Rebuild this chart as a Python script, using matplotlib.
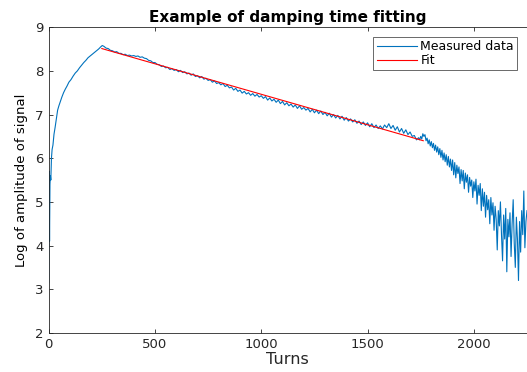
import matplotlib
matplotlib.use("Agg")
import numpy as np
import matplotlib.pyplot as plt

rise_turns = [0, 2, 4, 6, 8, 10, 13, 16, 20, 25, 30, 36, 42, 48, 55, 62, 70, 78,
              86, 95, 105, 115, 125, 135, 145, 155, 165, 175, 185, 195, 205, 215,
              225, 235, 245, 252]
rise_vals = [3.15, 5.7, 4.1, 5.4, 5.6, 5.5, 6.0, 6.2, 6.3, 6.55, 6.7, 6.9, 7.1,
             7.2, 7.3, 7.4, 7.5, 7.58, 7.65, 7.74, 7.8, 7.88, 7.95, 8.0, 8.07,
             8.13, 8.19, 8.24, 8.3, 8.34, 8.38, 8.42, 8.46, 8.5, 8.55, 8.58]

decay_turns = list(range(260, 1741, 10))
decay_vals = [
    8.56, 8.52, 8.51, 8.47, 8.46, 8.43, 8.44, 8.40, 8.40, 8.37,
    8.38, 8.35, 8.36, 8.34, 8.35, 8.33, 8.34, 8.31, 8.32, 8.29,
    8.28, 8.24, 8.23, 8.19, 8.19, 8.15, 8.14, 8.10, 8.11, 8.07,
    8.08, 8.03, 8.05, 8.01, 8.03, 7.98, 8.01, 7.96, 7.98, 7.93,
    7.95, 7.90, 7.93, 7.87, 7.89, 7.84, 7.87, 7.81, 7.83, 7.78,
    7.80, 7.74, 7.77, 7.71, 7.73, 7.68, 7.71, 7.64, 7.67, 7.61,
    7.63, 7.56, 7.60, 7.53, 7.56, 7.49, 7.53, 7.47, 7.50, 7.44,
    7.48, 7.42, 7.46, 7.40, 7.43, 7.37, 7.41, 7.33, 7.38, 7.31,
    7.35, 7.28, 7.33, 7.25, 7.30, 7.22, 7.27, 7.20, 7.24, 7.17,
    7.22, 7.14, 7.20, 7.12, 7.16, 7.10, 7.14, 7.06, 7.12, 7.04,
    7.10, 7.02, 7.08, 7.00, 7.05, 6.97, 7.03, 6.94, 7.00, 6.92,
    6.98, 6.90, 6.96, 6.87, 6.93, 6.85, 6.90, 6.83, 6.88, 6.80,
    6.85, 6.77, 6.83, 6.75, 6.81, 6.72, 6.79, 6.70, 6.76, 6.68,
    6.74, 6.67, 6.76, 6.70, 6.79, 6.68, 6.75, 6.64, 6.72, 6.60,
    6.68, 6.57, 6.65, 6.54, 6.60, 6.50, 6.52, 6.42, 6.47,
]

tail_turns = list(range(1745, 2251, 5))
tail_vals = [
    6.42, 6.50, 6.44, 6.56, 6.50, 6.54, 6.40, 6.46, 6.33, 6.42,
    6.28, 6.38, 6.24, 6.34, 6.18, 6.30, 6.14, 6.26, 6.08, 6.22,
    6.02, 6.18, 5.96, 6.12, 5.92, 6.08, 5.84, 6.04, 5.80, 5.98,
    5.72, 5.96, 5.62, 5.90, 5.55, 5.84, 5.65, 5.80, 5.42, 5.74,
    5.48, 5.72, 5.30, 5.66, 5.45, 5.62, 5.22, 5.56, 5.36, 5.50,
    5.10, 5.46, 5.25, 5.52, 4.95, 5.38, 5.15, 5.42, 4.80, 5.30,
    4.90, 5.22, 4.65, 5.15, 4.82, 5.05, 4.50, 5.10, 4.70, 4.98,
    4.35, 4.90, 4.60, 3.90, 4.80, 4.45, 5.00, 4.25, 3.65, 4.70,
    4.15, 4.85, 3.40, 4.60, 4.20, 4.75, 3.75, 4.50, 5.05, 4.05,
    3.50, 4.65, 4.15, 3.20, 4.55, 3.85, 4.80, 4.25, 5.25, 3.95,
    4.55, 4.80,
]

# fitted line end points
fit_turns = [250, 1762]
fit_vals = [8.51, 6.40]

turns = rise_turns + decay_turns + tail_turns
signal = rise_vals + decay_vals + tail_vals

dark = "#262626"
fig = plt.figure(figsize=(5.27, 3.72), dpi=100)
ax = fig.add_axes([0.0924, 0.105, 0.9076, 0.822])

ax.plot(turns, signal, color="#0072BD", lw=0.8, label="Measured data")
ax.plot(fit_turns, fit_vals, color="#FF0000", lw=0.8, label="Fit")

ax.set_xlim(0, 2250)
ax.set_ylim(2, 9)
ax.set_xticks([0, 500, 1000, 1500, 2000])
ax.set_yticks(range(2, 10))
ax.tick_params(direction="in", length=3, width=0.6, colors=dark,
               labelsize=9.5, top=True)
ax.spines["right"].set_visible(False)
for s in ["left", "bottom", "top"]:
    ax.spines[s].set_color(dark)
    ax.spines[s].set_linewidth(0.6)

ax.set_title("Example of damping time fitting", fontsize=11,
             fontweight="bold", color="black", pad=4)
ax.set_xlabel("Turns", fontsize=11.5, color=dark, labelpad=1)
ax.set_ylabel("Log of amplitude of signal", fontsize=9.5, color="black",
              labelpad=5)

leg = ax.legend(loc="upper right", fontsize=9, frameon=True, fancybox=False,
                borderaxespad=0.8, handlelength=3.2, handletextpad=0.3,
                labelspacing=0.05, borderpad=0.25)
leg.get_frame().set_edgecolor(dark)
leg.get_frame().set_linewidth(0.6)

fig.savefig("out.png", dpi=100)
